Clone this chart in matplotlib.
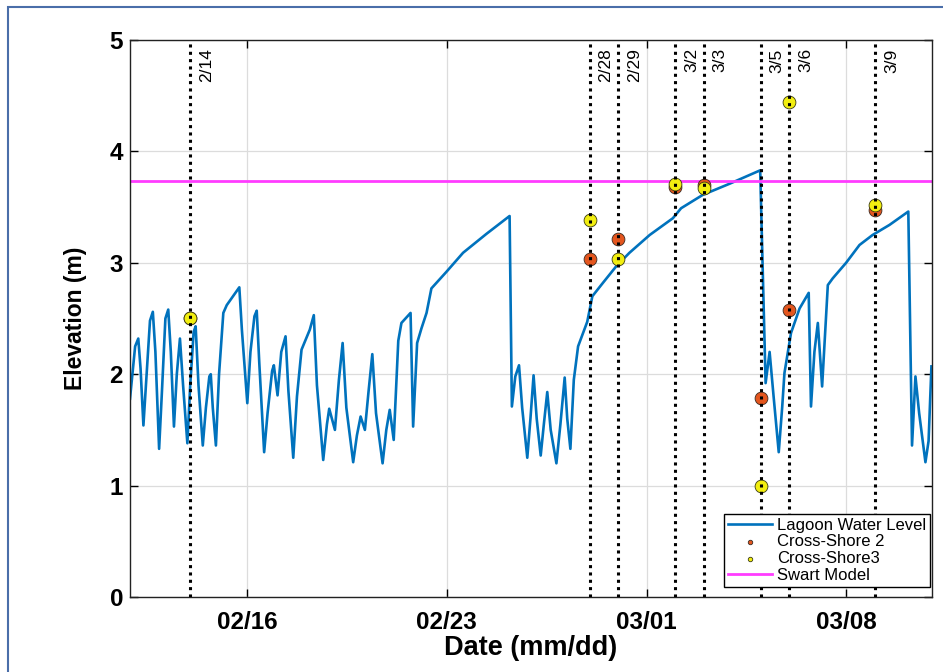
import numpy as np
import matplotlib
matplotlib.use("Agg")
import matplotlib.pyplot as plt
import matplotlib.dates as mdates
from matplotlib.patches import Rectangle

# lagoon water level, time in days since 2016-02-01 00:00
lagoon_t = [10.90, 11.08, 11.19, 11.27, 11.37, 11.47, 11.60, 11.70, 11.79, 11.92,
            12.02, 12.14, 12.24, 12.33, 12.44, 12.54, 12.65, 12.76, 12.91, 13.01,
            13.13, 13.20, 13.30, 13.45, 13.56, 13.68, 13.73, 13.80, 13.91, 14.02,
            14.17, 14.29, 14.73, 14.82, 15.01, 15.12, 15.26, 15.34, 15.43, 15.60,
            15.72, 15.88, 15.94, 16.07, 16.20, 16.35, 16.45, 16.62, 16.75, 16.91,
            17.20, 17.34, 17.45, 17.67, 17.80, 17.88, 18.08, 18.22, 18.35, 18.48,
            18.72, 18.85, 18.98, 19.13, 19.26, 19.39, 19.52, 19.75, 19.88, 20.00,
            20.14, 20.30, 20.41, 20.73, 20.82, 20.96, 21.11, 21.29, 21.46, 21.99,
            22.57, 23.39, 24.20, 24.28, 24.40, 24.53, 24.64, 24.82, 24.93, 25.04,
            25.15, 25.29, 25.40, 25.52, 25.64, 25.84, 25.98, 26.13, 26.22, 26.33,
            26.45, 26.60, 26.92, 27.10, 27.47, 27.94, 28.40, 29.11, 29.92, 30.21,
            30.97, 31.91, 32.98, 33.17, 33.31, 33.45, 33.63, 33.75, 33.83, 34.06,
            34.36, 34.68, 34.76, 34.88, 35.00, 35.15, 35.35, 35.52, 35.99, 36.46,
            36.92, 37.51, 38.17, 38.30, 38.42, 38.55, 38.77, 38.88, 38.98]
lagoon_level = [1.78, 2.25, 2.32, 2.05, 1.54, 1.95, 2.48, 2.56, 2.20, 1.33,
                1.85, 2.50, 2.58, 2.20, 1.53, 2.00, 2.32, 1.90, 1.38, 1.90,
                2.38, 2.43, 1.90, 1.36, 1.70, 1.98, 2.00, 1.70, 1.36, 2.00,
                2.55, 2.62, 2.78, 2.40, 1.74, 2.20, 2.52, 2.57, 2.10, 1.30,
                1.65, 2.03, 2.08, 1.81, 2.20, 2.34, 1.85, 1.25, 1.80, 2.22,
                2.40, 2.53, 1.90, 1.23, 1.55, 1.69, 1.50, 1.95, 2.28, 1.70,
                1.21, 1.45, 1.62, 1.50, 1.85, 2.18, 1.65, 1.20, 1.50, 1.68,
                1.41, 2.30, 2.46, 2.55, 1.53, 2.28, 2.41, 2.55, 2.77, 2.92,
                3.09, 3.26, 3.42, 1.71, 1.98, 2.08, 1.70, 1.25, 1.60, 1.99,
                1.60, 1.27, 1.55, 1.84, 1.50, 1.20, 1.55, 1.97, 1.60, 1.33,
                1.95, 2.25, 2.47, 2.70, 2.82, 2.97, 3.09, 3.25, 3.40, 3.49,
                3.61, 3.71, 3.83, 1.92, 2.20, 1.80, 1.30, 1.70, 2.01, 2.37,
                2.59, 2.73, 1.71, 2.20, 2.46, 1.89, 2.80, 2.86, 3.00, 3.16,
                3.25, 3.34, 3.46, 1.36, 1.98, 1.65, 1.21, 1.40, 2.07]

# survey dates
survey_dates = ["2016-02-14", "2016-02-28", "2016-02-29", "2016-03-02",
                "2016-03-03", "2016-03-05", "2016-03-06", "2016-03-09"]
survey_labels = ["2/14", "2/28", "2/29", "3/2", "3/3", "3/5", "3/6", "3/9"]
cross_shore2 = [2.50, 3.03, 3.21, 3.68, 3.70, 1.79, 2.58, 3.47]
cross_shore3 = [2.50, 3.38, 3.03, 3.71, 3.67, 1.00, 4.44, 3.52]

swart_level = 3.73
tick_dates = ["2016-02-16", "2016-02-23", "2016-03-01", "2016-03-08"]

plt.rcParams['font.family'] = ['Liberation Sans', 'DejaVu Sans']

base = mdates.date2num(np.datetime64("2016-02-01"))
t = base + np.asarray(lagoon_t)
sx = mdates.date2num(np.asarray(survey_dates, dtype="datetime64[D]"))
ticks = mdates.date2num(np.asarray(tick_dates, dtype="datetime64[D]"))

fig = plt.figure(figsize=(9.43, 6.72), dpi=100)
ax = fig.add_axes([130/943, 75/672, 802/943, 557/672])

ax.plot(t, lagoon_level, color="#0072BD", lw=1.9, zorder=2,
        solid_joinstyle="round", label="Lagoon Water Level")
ax.scatter(sx, cross_shore2, s=85, color="#E4561E", edgecolor="#3a2a20",
           lw=0.6, zorder=3, label="Cross-Shore 2")
ax.scatter(sx, cross_shore3, s=85, color="#F2EE10", edgecolor="#3a3a10",
           lw=0.6, zorder=3.1, label="Cross-Shore3")
ax.axhline(swart_level, color="#FF3CFF", lw=2, zorder=2, label="Swart Model")

for x, lbl in zip(sx, survey_labels):
    ax.axvline(x, color="black", lw=2.2, ls=(0, (1, 1.4)), zorder=4)
    ax.annotate(lbl, xy=(x, 1), xycoords=("data", "axes fraction"),
                xytext=(6.5, -6), textcoords="offset points",
                rotation=90, ha="left", va="top", fontsize=12.5)

ax.set_xlim(base + 10.9, base + 39.0)
ax.set_ylim(0, 5)
ax.set_xticks(ticks)
ax.xaxis.set_major_formatter(mdates.DateFormatter("%m/%d"))
ax.set_yticks(range(6))
ax.grid(True, color="#dcdcdc", lw=0.9)
ax.set_axisbelow(True)
ax.tick_params(direction="in", length=6, width=1, top=True, right=True,
               labelsize=17.5)
ax.tick_params(axis="x", pad=10)
ax.tick_params(axis="y", pad=5)
for lab in ax.get_xticklabels() + ax.get_yticklabels():
    lab.set_fontweight("bold")
for sp in ax.spines.values():
    sp.set_linewidth(1.0)
    sp.set_color("#222222")

ax.set_xlabel("Date (mm/dd)", fontsize=19.5, fontweight="bold", labelpad=1)
ax.set_ylabel("Elevation (m)", fontsize=16.5, fontweight="bold", labelpad=16)

leg = ax.legend(loc="lower right", bbox_to_anchor=(930/943, 85/672),
                bbox_transform=fig.transFigure, borderaxespad=0,
                fontsize=12, frameon=True, fancybox=False,
                edgecolor="black", framealpha=1, handlelength=2.6,
                labelspacing=0.1, borderpad=0.25, handletextpad=0.3,
                markerscale=0.35)
leg.get_frame().set_linewidth(1.0)

fig.patches.append(Rectangle((8/943, -0.05), 1.1, (672-7)/672 + 0.05,
                             transform=fig.transFigure, fill=False,
                             edgecolor="#4a6ea9", lw=1.5))

fig.savefig("out.png", dpi=100)
